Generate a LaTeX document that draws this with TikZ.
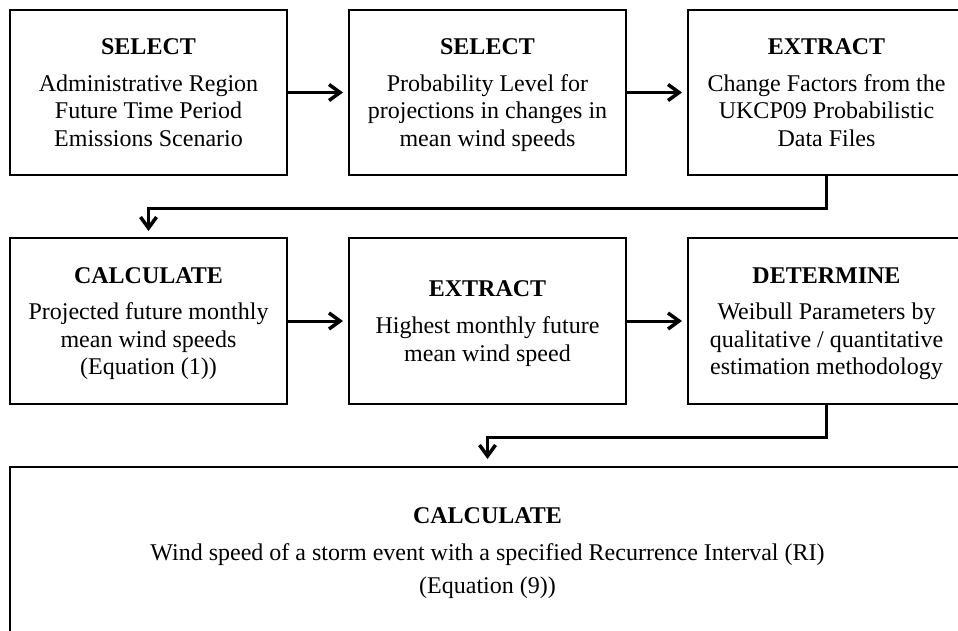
\documentclass[tikz,border=0pt]{standalone}
\usepackage{fontspec}
\setmainfont{Liberation Serif}
\usetikzlibrary{arrows.meta}
\newcommand{\lastln}[1]{\raisebox{0pt}[\height][0pt]{#1}}
\begin{document}
\begin{tikzpicture}[x=1bp,y=-1bp,
  stepbox/.style={draw=black, line width=2bp, rectangle, minimum width=277bp, minimum height=165bp,
    inner sep=0pt, align=center, font=\fontsize{24bp}{27.5bp}\selectfont},
  conn/.style={line width=3bp, -{Straight Barb[length=11bp,width=16bp,line width=3.5bp]}, line join=miter}
]
\useasboundingbox (0,0) rectangle (958,631);
\clip (0,0) rectangle (958,631);
\node[stepbox] (b1) at (148.5,92.5) {\textbf{SELECT}\\[9.2bp]Administrative Region\\Future Time Period\\\lastln{Emissions Scenario}};
\node[stepbox] (b2) at (487.5,92.5) {\textbf{SELECT}\\[9.2bp]Probability Level for\\projections in changes in\\\lastln{mean wind speeds}};
\node[stepbox] (b3) at (826.5,92.5) {\textbf{EXTRACT}\\[9.2bp]Change Factors from the\\UKCP09 Probabilistic\\\lastln{Data Files}};
\node[stepbox, minimum height=166bp] (b4) at (148.5,321) {\textbf{CALCULATE}\\[9.2bp]Projected future monthly\\mean wind speeds\\\lastln{(Equation (1))}};
\node[stepbox, minimum height=166bp] (b5) at (487.5,321) {\textbf{EXTRACT}\\[9.2bp]Highest monthly future\\\lastln{mean wind speed}};
\node[stepbox, minimum height=166bp] (b6) at (826.5,321) {\textbf{DETERMINE}\\[9.2bp]Weibull Parameters by\\qualitative / quantitative\\\lastln{estimation methodology}};
\node[stepbox, minimum width=955bp, minimum height=168bp] (b7) at (487.5,551) {\textbf{CALCULATE}\\[9.5bp]Wind speed of a storm event with a specified Recurrence Interval (RI)\\[5.5bp]\lastln{(Equation (9))}};
\draw[conn, shorten >=5bp] (b1.east) -- (b2.west);
\draw[conn, shorten >=5bp] (b2.east) -- (b3.west);
\draw[conn, shorten >=5bp] (b4.east) -- (b5.west);
\draw[conn, shorten >=5bp] (b5.east) -- (b6.west);
\draw[conn, shorten >=6bp] (b3.south) -- ++(0,32) -| (b4.north);
\draw[conn, shorten >=7bp] (b6.south) -- ++(0,32) -| (b7.north);
\end{tikzpicture}
\end{document}
